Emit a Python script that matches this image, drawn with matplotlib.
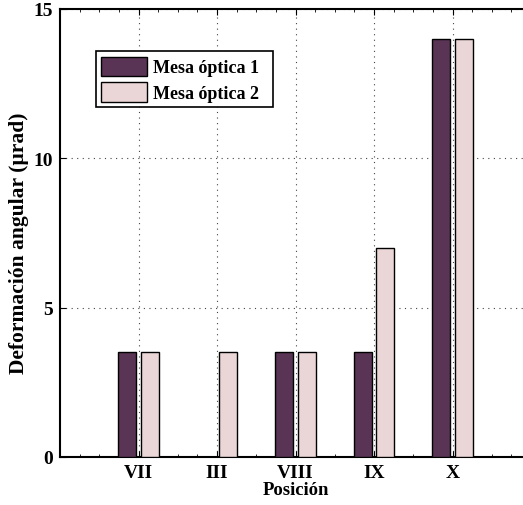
import numpy as np
import matplotlib.pyplot as plt
from matplotlib.ticker import MultipleLocator

posiciones = ['VII', 'III', 'VIII', 'IX', 'X']
mesa_1 = [3.5, 0, 3.5, 3.5, 14]
mesa_2 = [3.5, 3.5, 3.5, 7, 14]

plt.rcParams['font.family'] = ['Liberation Serif', 'DejaVu Serif']
plt.rcParams['font.weight'] = 'bold'

fig = plt.figure(figsize=(5.23, 5.06), dpi=100)
# axes run a little past the right edge of the figure
ax = fig.add_axes([60/523, 48/506, 471/523, 448/506])

x = np.arange(1, len(posiciones) + 1)
w = 0.23
ax.bar(x - 0.145, mesa_1, w, color='#5a3455', edgecolor='black', linewidth=1.0,
       label='Mesa óptica 1  ', zorder=3)
ax.bar(x + 0.145, mesa_2, w, color='#ead6d6', edgecolor='black', linewidth=1.0,
       label='Mesa óptica 2  ', zorder=3)

ax.set_xlim(0, 6)
ax.set_ylim(0, 15)
ax.set_xticks(x)
ax.set_xticklabels(posiciones)
ax.set_yticks([0, 5, 10, 15])
ax.xaxis.set_minor_locator(MultipleLocator(0.25))
ax.tick_params(axis='both', which='major', direction='in', length=4, labelsize=14,
               top=True, right=True, pad=5)
ax.tick_params(axis='x', which='minor', direction='in', length=2, top=True)
for lbl in ax.get_xticklabels() + ax.get_yticklabels():
    lbl.set_fontweight('bold')

ax.grid(True, linestyle=(0, (1, 4)), color='#444444', linewidth=0.8, zorder=0)
for s in ax.spines.values():
    s.set_linewidth(1.5)

ax.set_xlabel('Posición', fontsize=13.5, fontweight='bold', labelpad=0)
ax.set_ylabel('Deformación angular (µrad)', fontsize=15.5, fontweight='bold')
ax.yaxis.set_label_coords(-0.066, 0.48)

leg = ax.legend(loc='upper left', bbox_to_anchor=(0.0764, 0.906), fontsize=13,
                frameon=True, fancybox=False, edgecolor='black', framealpha=1,
                handlelength=2.55, handleheight=1.3, handletextpad=0.3,
                borderpad=0.3, labelspacing=0.3, borderaxespad=0)
leg.get_frame().set_linewidth(1.2)
for t in leg.get_texts():
    t.set_fontweight('bold')

plt.savefig('out.png', dpi=100)
